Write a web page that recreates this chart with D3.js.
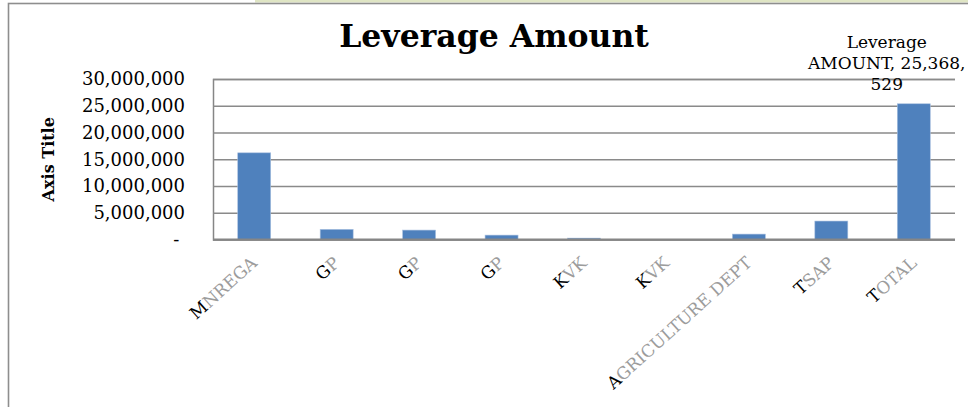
<!DOCTYPE html>
<html>
<head>
<meta charset="utf-8">
<script src="https://cdn.jsdelivr.net/npm/d3@7"></script>
<style>
  body { margin: 0; background: #fff; }
  svg { display: block; font-family: "DejaVu Serif", serif; }
</style>
</head>
<body>
<svg id="chart"></svg>
<script>
var categories = ["MNREGA", "GP", "GP", "GP", "KVK", "KVK", "AGRICULTURE DEPT", "TSAP", "TOTAL"];
var amounts = [16200000, 1900000, 1760000, 820000, 260000, 0, 1010000, 3450000, 25368529];
var yTicks = [0, 5000000, 10000000, 15000000, 20000000, 25000000, 30000000];
var chartTitle = "Leverage Amount";
var yTitle = "Axis Title";
var totalLabel = ["Leverage", "AMOUNT, 25,368,", "529"];

var width = 968;
var height = 407;
var plot = { left: 213, right: 955, top: 79, bottom: 239.5 };

var svg = d3.select("#chart")
  .attr("width", width)
  .attr("height", height);

var data = categories.map((c, i) => ({ name: c, value: amounts[i], i: i }));

// frame of the chart object
svg.append("rect")
  .attr("x", 255).attr("y", 0)
  .attr("width", width).attr("height", 2.5)
  .attr("fill", "#dfe5c4");

svg.append("rect")
  .attr("x", 8.5).attr("y", 3.5)
  .attr("width", 1200).attr("height", 800)
  .attr("fill", "#fff")
  .attr("stroke", "#8e8e8e")
  .attr("stroke-width", 1.6);

var x = d3.scaleBand()
  .domain(d3.range(categories.length))
  .range([plot.left, plot.right])
  .paddingInner(0.6)
  .paddingOuter(0.3);

var y = d3.scaleLinear()
  .domain([0, 30000000])
  .range([plot.bottom, plot.top]);

var fmt = d3.format(",");

// gridlines + y labels
var yAxis = svg.append("g")
  .attr("transform", "translate(" + plot.left + ",0)")
  .call(
    d3.axisLeft(y)
      .tickValues(yTicks)
      .tickSize(-(plot.right - plot.left))
      .tickPadding(28)
      .tickFormat(d => d === 0 ? "-\u00a0" : fmt(d))
  );

yAxis.select(".domain").attr("stroke", "#868686").attr("stroke-width", 1.5);
yAxis.selectAll(".tick line")
  .attr("stroke", "#8a8a8a")
  .attr("stroke-width", 1.3);
yAxis.selectAll(".tick text")
  .attr("fill", "#000")
  .attr("font-size", 18)
  .attr("font-family", "DejaVu Serif");

// bars
svg.append("g")
  .selectAll("rect")
  .data(data)
  .enter()
  .append("rect")
    .attr("x", d => x(d.i))
    .attr("y", d => y(d.value))
    .attr("width", x.bandwidth())
    .attr("height", d => y(0) - y(d.value))
    .attr("fill", "#4f81bd")
    .attr("stroke", "#a9c0df")
    .attr("stroke-width", 0.6);

// x axis line
svg.append("line")
  .attr("x1", plot.left).attr("x2", plot.right)
  .attr("y1", y(0)).attr("y2", y(0))
  .attr("stroke", "#868686")
  .attr("stroke-width", 2);

// category labels, first letter dark and the rest faded
var labels = svg.append("g")
  .selectAll("text")
  .data(data)
  .enter()
  .append("text")
    .attr("transform", d => "translate(" + (x(d.i) + x.bandwidth() / 2 + 4) + "," + (y(0) + 25) + ") rotate(-42)")
    .attr("text-anchor", "end")
    .attr("font-size", 17);

labels.append("tspan")
  .attr("fill", "#000")
  .text(d => d.name.charAt(0));
labels.append("tspan")
  .attr("fill", "#9c9c9c")
  .text(d => d.name.slice(1));

// title
svg.append("text")
  .attr("x", 494)
  .attr("y", 47)
  .attr("text-anchor", "middle")
  .attr("font-size", 31.5)
  .attr("font-weight", "bold")
  .text(chartTitle);

// y axis title
svg.append("text")
  .attr("transform", "translate(54," + ((plot.top + plot.bottom) / 2) + ") rotate(-90)")
  .attr("text-anchor", "middle")
  .attr("font-size", 16)
  .attr("font-weight", "bold")
  .text(yTitle);

// data label for the total bar
var last = data[data.length - 1];
svg.append("text")
  .attr("text-anchor", "middle")
  .attr("font-size", 17)
  .selectAll("tspan")
  .data(totalLabel)
  .enter()
  .append("tspan")
    .attr("x", x(last.i) + x.bandwidth() / 2 - 27)
    .attr("y", (d, i) => y(last.value) - 56 + i * 21)
    .text(d => d);
</script>
</body>
</html>
